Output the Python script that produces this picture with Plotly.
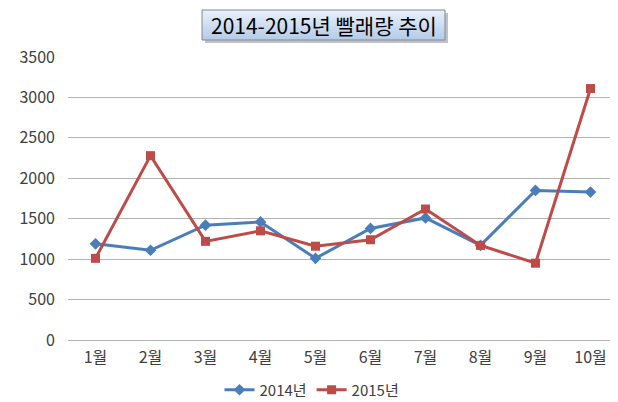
import plotly.graph_objects as go

months = ["1월", "2월", "3월", "4월", "5월", "6월", "7월", "8월", "9월", "10월"]
y2014 = [1190, 1110, 1420, 1460, 1010, 1380, 1510, 1170, 1850, 1830]
y2015 = [1010, 2280, 1220, 1350, 1160, 1240, 1620, 1170, 950, 3110]

# the page body has an 8px margin, so the figure is a bit smaller than the window
OFF = 8
W, H = 618 - OFF, 402 - OFF
L, R, T, B = 68 - OFF, 0, 57 - OFF, 402 - 340
FONT = "Noto Sans CJK KR"


def px(x, y):
    # window pixel -> paper coords
    x, y = x - OFF, y - OFF
    return (x - L) / (W - L - R), 1 - (y - T) / (H - T - B)


fig = go.Figure()
fig.add_trace(go.Scatter(
    x=months, y=y2014, name="2014년", mode="lines+markers",
    line=dict(color="#4A7EBB", width=3),
    marker=dict(symbol="diamond", size=9, color="#4A7EBB"),
))
fig.add_trace(go.Scatter(
    x=months, y=y2015, name="2015년", mode="lines+markers",
    line=dict(color="#BE4B48", width=3),
    marker=dict(symbol="square", size=9, color="#BE4B48"),
))

# title box: shadow + vertical gradient made of strips
shapes = []
x0, x1, y0, y1 = 202, 445, 10, 40
a, b = px(x0 + 3, y0 + 3)
c, d = px(x1 + 3, y1 + 3)
shapes.append(dict(type="rect", xref="paper", yref="paper", x0=a, x1=c, y0=d, y1=b,
                   fillcolor="rgba(120,120,120,0.45)", line=dict(width=0), layer="above"))
n = 15
top, bot = (232, 240, 250), (182, 204, 232)
for i in range(n):
    t = i / (n - 1)
    col = "rgb(%d,%d,%d)" % tuple(int(top[k] + (bot[k] - top[k]) * t) for k in range(3))
    ya = y0 + (y1 - y0) * i / n
    yb = y0 + (y1 - y0) * (i + 1) / n
    a, b = px(x0, ya)
    c, d = px(x1, yb)
    shapes.append(dict(type="rect", xref="paper", yref="paper", x0=a, x1=c, y0=d, y1=b,
                       fillcolor=col, line=dict(width=0), layer="above"))
a, b = px(x0, y0)
c, d = px(x1, y1)
shapes.append(dict(type="rect", xref="paper", yref="paper", x0=a, x1=c, y0=d, y1=b,
                   fillcolor="rgba(0,0,0,0)", line=dict(color="#7f8a9a", width=1), layer="above"))

tx, ty = px((x0 + x1) / 2, (y0 + y1) / 2)
fig.add_annotation(
    x=tx, y=ty, xref="paper", yref="paper", showarrow=False,
    xanchor="center", yanchor="middle",
    text="2014-2015년 빨래량 추이",
    font=dict(family=FONT, size=21, color="#000000"),
)

lx, ly = px(312, 390)
fig.update_layout(
    width=W, height=H,
    margin=dict(l=L, r=R, t=T, b=B, autoexpand=False),
    paper_bgcolor="white", plot_bgcolor="white",
    shapes=shapes,
    showlegend=True,
    legend=dict(orientation="h", x=lx, y=ly, xanchor="center", yanchor="middle",
                font=dict(family=FONT, size=15, color="#404040"),
                itemwidth=30, tracegroupgap=0),
    xaxis=dict(
        type="category", range=[-0.5, 9.5], showgrid=False, automargin=False,
        showline=False, ticks="", ticklen=0, ticklabelstandoff=6,
        tickfont=dict(family=FONT, size=16, color="#404040"),
    ),
    yaxis=dict(
        range=[0, 3500], dtick=500, showgrid=True, gridcolor="#b3b3b3", gridwidth=1,
        zeroline=True, zerolinecolor="#b3b3b3", zerolinewidth=1, automargin=False,
        showline=False, ticks="", ticklen=0, ticklabelstandoff=12,
        tickfont=dict(family=FONT, size=16, color="#404040"),
    ),
)

fig.write_html("out.html")
